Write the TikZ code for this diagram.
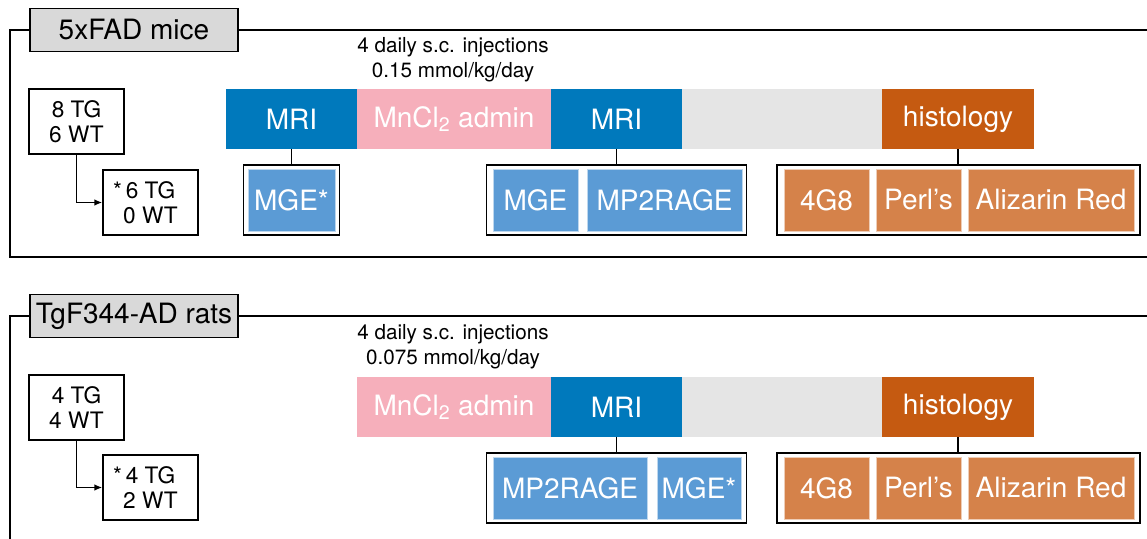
\documentclass[tikz,border=0pt]{standalone}
\usepackage{fontspec}
\setmainfont{TeX Gyre Heros}
\usetikzlibrary{arrows.meta, positioning}
\definecolor{mriblue}{RGB}{0,121,188}
\definecolor{mnpink}{RGB}{246,175,187}
\definecolor{waitgray}{RGB}{229,229,229}
\definecolor{historange}{RGB}{197,90,17}
\definecolor{seqblue}{RGB}{91,155,213}
\definecolor{stainorange}{RGB}{213,130,74}
\definecolor{taggray}{RGB}{217,217,217}

\begin{document}
\begin{tikzpicture}[x=0.75pt, y=-0.75pt, >={Latex[length=6pt,width=5pt]},
    big/.style={font=\fontsize{21}{25}\selectfont},
    tagbox/.style={draw, line width=1pt, fill=taggray, minimum width=156pt, minimum height=32pt, inner sep=0pt, font=\fontsize{21}{25}\selectfont},
    panel/.style={line width=1.4pt},
    cohort/.style={draw, line width=1pt, minimum width=71.25pt, minimum height=48.75pt, align=center, inner sep=0pt, font=\fontsize{17}{18.75}\selectfont},
    phase/.style={minimum height=45pt, inner sep=0pt, text=white, big},
    grp/.style={draw, line width=1.4pt, minimum height=52.5pt, inner sep=0pt},
    sub/.style={minimum height=46.5pt, inner sep=0pt, text=white, big, draw=white!60!#1, line width=0.5pt, fill=#1},
    dose/.style={align=center, font=\fontsize{15.5}{18.75}\selectfont},
    link/.style={line width=1.2pt}]
    \useasboundingbox (0,0) rectangle (1147,539);
    % (a) 5xFAD mice
    \begin{scope}
        \node[tagbox] (tagA) at (134,30) {5xFAD mice};
        \draw[panel] (tagA.west) -| (10,257) -- (1147,257);
        \draw[panel] (tagA.east) -- (1147,30);
        \node[cohort] (allA) at (76.5,121.5) {8 TG\\6 WT};
        \node[cohort] (selA) at (150.5,202.5) {\llap{*\,}6 TG\\0 WT};
        \draw[link,->] (allA.south) |- (selA.west);
        \node[dose] (doseA) at (453,59.5) {4 daily s.c. injections\\0.15 mmol/kg/day};
        \node[phase, fill=mriblue, minimum width=98.25pt] (mriA1) at (291.5,119) {MRI};
        \node[phase, fill=mnpink, minimum width=145.5pt] (mnA) at (454,119) {MnCl\textsubscript{2} admin};
        \node[phase, fill=mriblue, minimum width=98.25pt] (mriA2) at (616.5,119) {MRI};
        \node[phase, fill=waitgray, minimum width=150pt] (waitA) at (782,119) {};
        \node[phase, fill=historange, minimum width=114pt] (histA) at (958,119) {histology};
        \node[grp, minimum width=72pt] (grpA1) at (291.5,200) {};
        \node[grp, minimum width=195pt] (grpA2) at (616.5,200) {};
        \node[grp, minimum width=272.25pt] (grpA3) at (958.5,200) {};
        \draw[link] (mriA1.south) -- (mriA1.south |- grpA1.north);
        \draw[link] (mriA2.south) -- (mriA2.south |- grpA2.north);
        \draw[link] (histA.south) -- (histA.south |- grpA3.north);
        \node[sub=seqblue, minimum width=65.25pt] (mgeA1) at (291.5,200) {MGE*};
        \node[sub=seqblue, minimum width=63.75pt] (mgeA2) at (535.5,200) {MGE};
        \node[sub=seqblue, minimum width=116.25pt] (mp2A) at (664.5,200) {MP2RAGE};
        \node[sub=stainorange, minimum width=63.75pt] (agA) at (826.5,200) {4G8};
        \node[sub=stainorange, minimum width=63.75pt] (perlA) at (918.5,200) {Perl's};
        \node[sub=stainorange, minimum width=124.5pt] (arA) at (1051,200) {Alizarin Red};
    \end{scope}
    % (b) TgF344-AD rats
    \begin{scope}[shift={(0,287)}]
        \node[tagbox] (tagB) at (134,29) {TgF344-AD rats};
        \draw[panel] (tagB.west) -| (10,252);
        \draw[panel] (tagB.east) -- (1147,29);
        \node[cohort] (allB) at (76.5,120.5) {4 TG\\4 WT};
        \node[cohort] (selB) at (150.5,200.5) {\llap{*\,}4 TG\\2 WT};
        \draw[link,->] (allB.south) |- (selB.west);
        \node[dose] (doseB) at (453,59.5) {4 daily s.c. injections\\0.075 mmol/kg/day};
        \node[phase, fill=mnpink, minimum width=145.5pt] (mnB) at (454,120) {MnCl\textsubscript{2} admin};
        \node[phase, fill=mriblue, minimum width=98.25pt] (mriB) at (616.5,120) {MRI};
        \node[phase, fill=waitgray, minimum width=150pt] (waitB) at (782,120) {};
        \node[phase, fill=historange, minimum width=114pt] (histB) at (958,120) {histology};
        \node[grp, minimum width=195pt] (grpB2) at (616.5,201) {};
        \node[grp, minimum width=272.25pt] (grpB3) at (958.5,201) {};
        \draw[link] (mriB.south) -- (mriB.south |- grpB2.north);
        \draw[link] (histB.south) -- (histB.south |- grpB3.north);
        \node[sub=seqblue, minimum width=115.5pt] (mp2B) at (570,201) {MP2RAGE};
        \node[sub=seqblue, minimum width=63pt] (mgeB) at (699,201) {MGE*};
        \node[sub=stainorange, minimum width=63.75pt] (agB) at (826.5,201) {4G8};
        \node[sub=stainorange, minimum width=63.75pt] (perlB) at (918.5,201) {Perl's};
        \node[sub=stainorange, minimum width=124.5pt] (arB) at (1051,201) {Alizarin Red};
    \end{scope}
\end{tikzpicture}
\end{document}
